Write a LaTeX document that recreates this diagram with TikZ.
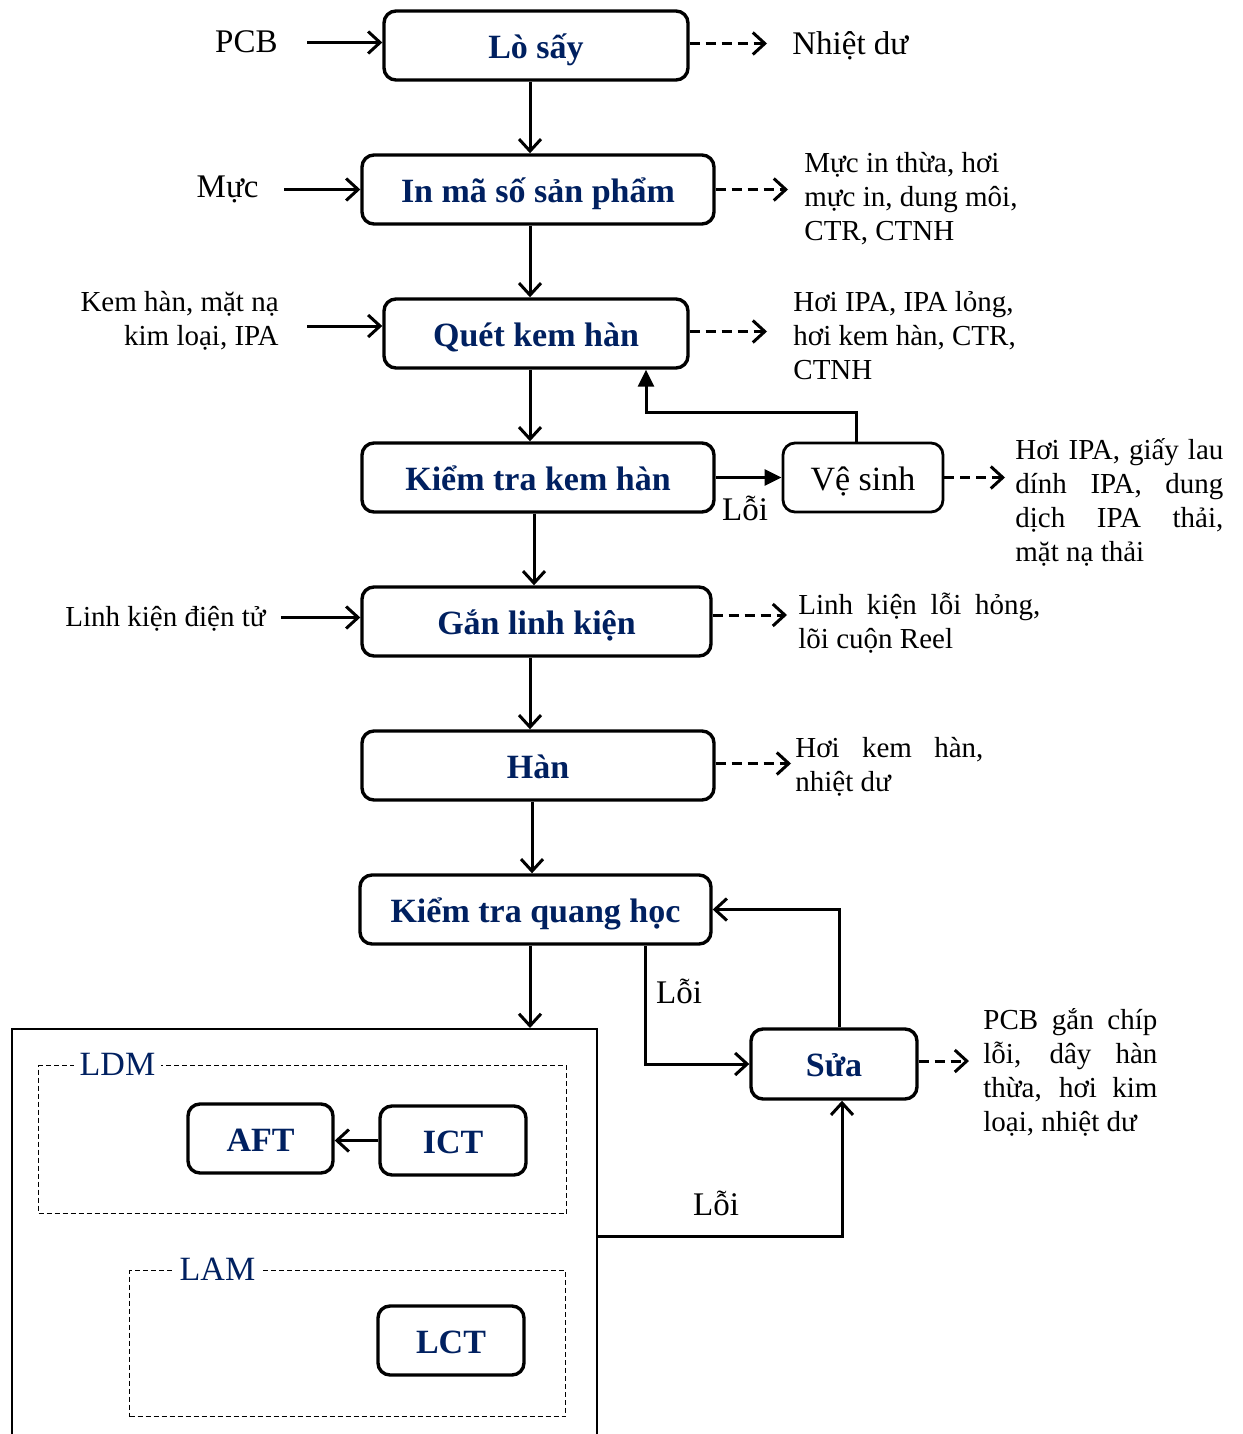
\documentclass[tikz,border=0pt]{standalone}
\usepackage{fontspec}
\setmainfont{Liberation Serif}
\usetikzlibrary{arrows.meta,calc}
\definecolor{navy}{HTML}{002060}
% a line of text stretched to a fixed width (justified line)
\newcommand{\jline}[2]{\makebox[#1][s]{#2}}

\begin{document}
\begin{tikzpicture}[x=0.5pt,y=-0.5pt,
  proc/.style={draw,line width=1.7pt,rounded corners=6pt,minimum height=34.5pt,
    inner sep=0pt,text height=15pt,text depth=2.3pt,text=navy,
    font=\fontsize{17}{19}\selectfont\bfseries},
  side/.style={inner sep=0pt,font=\fontsize{14.5}{17}\selectfont,align=left},
  big/.style={inner sep=0pt,font=\fontsize{16.5}{19}\selectfont},
  group/.style={draw,dashed,dash pattern=on 2.5pt off 1.5pt,line width=0.6pt,
    inner sep=0pt,anchor=north west},
  grouplabel/.style={fill=white,inner xsep=3pt,inner ysep=0pt,text=navy,
    font=\fontsize{17}{19}\selectfont},
  arr/.style={line width=1.5pt,-{Straight Barb[length=6pt,width=11pt]}},
  darr/.style={line width=1.5pt,dash pattern=on 5pt off 3pt,
    -{Straight Barb[length=6pt,width=11pt]}},
  farr/.style={line width=1.5pt,-{Triangle[length=8.5pt,width=8pt]}},
]
\clip (0,0) rectangle (1242,1434);

% process steps
\node[proc,minimum width=152pt] (lo) at (536,45.5) {Lò sấy};
\node[proc,minimum width=176pt] (inma) at (538,189.5) {In mã số sản phẩm};
\node[proc,minimum width=152pt] (quet) at (536,333.5) {Quét kem hàn};
\node[proc,minimum width=176pt] (ktkh) at (538,477.5) {Kiểm tra kem hàn};
\node[proc,minimum width=80pt,line width=1.4pt,text=black,
  font=\fontsize{17}{19}\selectfont] (vesinh) at (863,477.5) {Vệ sinh};
\node[proc,minimum width=174.5pt] (gan) at (536.5,621.5) {Gắn linh kiện};
\node[proc,minimum width=176pt] (han) at (538,765.5) {Hàn};
\node[proc,minimum width=175.5pt] (ktqh) at (535.5,909.5) {Kiểm tra quang học};
\node[proc,minimum width=83pt,minimum height=35pt] (sua) at (834,1064) {Sửa};

% test area
\node[draw,line width=1pt,minimum width=292.5pt,minimum height=220pt,
  inner sep=0pt,anchor=north west] (ltest) at (11,1028) {};
\node[group,minimum width=264pt,minimum height=74pt] (ldm) at (38,1065) {};
\node[grouplabel] (ldmlbl) at (117.5,1064) {LDM};
\node[group,minimum width=218pt,minimum height=73pt] (lam) at (129,1270) {};
\node[grouplabel] (lamlbl) at (217.5,1269) {LAM};
\node[proc,minimum width=72.5pt] (aft) at (260.5,1138.5) {AFT};
\node[proc,minimum width=73pt] (ict) at (453,1140.5) {ICT};
\node[proc,minimum width=73pt] (lct) at (451,1340.5) {LCT};

% inputs (multi-line nodes are anchored on the baseline of their last line)
\node[big,anchor=base east] (pcb) at (278,53) {PCB};
\node[big,anchor=base east] (muc) at (259,197) {Mực};
\node[side,anchor=base east,align=right] (kem) at (279,345) {Kem hàn, mặt nạ\\kim loại, IPA};
\node[side,anchor=base west] (lkdt) at (65,626) {Linh kiện điện tử};

% outputs
\node[big,anchor=base west] (nhiet) at (792,55) {Nhiệt dư};
\node[side,anchor=base west] (o1) at (804,240) {Mực in thừa, hơi\\mực in, dung môi,\\CTR, CTNH};
\node[side,anchor=base west] (o2) at (793,379) {Hơi IPA, IPA lỏng,\\hơi kem hàn, CTR,\\CTNH};
\node[side,anchor=base west] (o3) at (1015,561) {\jline{104pt}{Hơi IPA, giấy lau}\\\jline{104pt}{dính IPA, dung}\\\jline{104pt}{dịch IPA thải,}\\mặt nạ thải};
\node[side,anchor=base west] (o4) at (798,648) {\jline{121pt}{Linh kiện lỗi hỏng,}\\lõi cuộn Reel};
\node[side,anchor=base west] (o5) at (795,791) {\jline{94pt}{Hơi kem hàn,}\\nhiệt dư};
\node[side,anchor=base west] (o6) at (983,1131) {\jline{87pt}{PCB gắn chíp}\\\jline{87pt}{lỗi, dây hàn}\\\jline{87pt}{thừa, hơi kim}\\loại, nhiệt dư};

% error labels
\node[big,anchor=base] (err1) at (745,520) {Lỗi};
\node[big,anchor=base] (err2) at (679,1003) {Lỗi};
\node[big,anchor=base] (err3) at (716,1215) {Lỗi};

% main flow
\draw[arr] ([xshift=-3pt]lo.south) -- ([xshift=-3pt]lo.south |- inma.north);
\draw[arr] ([xshift=-4pt]inma.south) -- ([xshift=-4pt]inma.south |- quet.north);
\draw[arr] ([xshift=-3pt]quet.south) -- ([xshift=-3pt]quet.south |- ktkh.north);
\draw[arr] ([xshift=-2pt]ktkh.south) -- ([xshift=-2pt]ktkh.south |- gan.north);
\draw[arr] ([xshift=-3.25pt]gan.south) -- ([xshift=-3.25pt]gan.south |- han.north);
\draw[arr] ([xshift=-3pt]han.south) -- ([xshift=-3pt]han.south |- ktqh.north);
\draw[arr] ([xshift=-2.75pt]ktqh.south) -- ([xshift=-2.75pt]ktqh.south |- ltest.north);

% inputs
\coordinate (lin) at ([yshift=1.5pt]lo.west);
\draw[arr,shorten <=14.5pt] (pcb.east |- lin) -- (lin);
\draw[arr,shorten <=12.5pt] (muc.east |- inma.west) -- (inma.west);
\coordinate (qin) at ([yshift=3.75pt]quet.west);
\draw[arr,shorten <=14pt] (kem.east |- qin) -- (qin);
\coordinate (gin) at ([yshift=2pt]gan.west);
\draw[arr,shorten <=7.5pt] (lkdt.east |- gin) -- (gin);

% outputs
\draw[darr,shorten >=12.5pt] ([yshift=1pt]lo.east) -- ([yshift=1pt]lo.east -| nhiet.west);
\draw[darr,shorten >=8pt] (inma.east) -- (inma.east -| o1.west);
\draw[darr,shorten >=13pt] ([yshift=1pt]quet.east) -- ([yshift=1pt]quet.east -| o2.west);
\draw[darr,shorten >=5pt] (vesinh.east) -- (vesinh.east -| o3.west);
\draw[darr,shorten >=5.5pt] ([yshift=3.25pt]gan.east) -- ([yshift=3.25pt]gan.east -| o4.west);
\draw[darr,shorten >=2pt] ([yshift=1pt]han.east) -- ([yshift=1pt]han.east -| o5.west);
\draw[darr,shorten >=7pt] ([yshift=1.5pt]sua.east) -- ([yshift=1.5pt]sua.east -| o6.west);

% cleaning loop
\draw[farr] (ktkh.east) -- (vesinh.west);
\coordinate (vsup) at (646,412);
\draw[farr] ([xshift=-3.5pt]vesinh.north) |- (vsup) -- (vsup |- quet.south);

% repair loop
\draw[arr] ([xshift=54.75pt]ktqh.south) |- (sua.west);
\draw[arr] ([xshift=2.5pt]sua.north) |- (ktqh.east);
\coordinate (lout) at (596,1236);
\draw[arr] (lout) -| ([xshift=4pt]sua.south);
\draw[arr] (ict.west) -- (ict.west -| aft.east);

\end{tikzpicture}
\end{document}
